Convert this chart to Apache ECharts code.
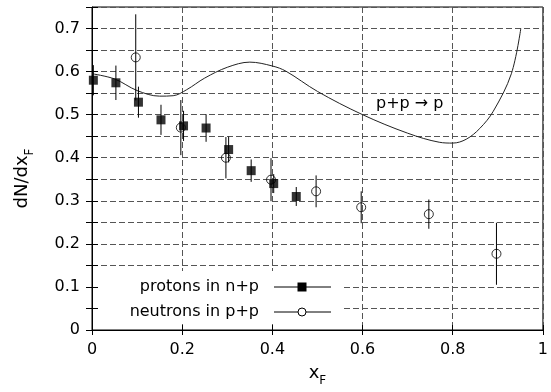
<!DOCTYPE html>
<html>
<head>
<meta charset="utf-8">
<script src="https://cdn.jsdelivr.net/npm/echarts@6/dist/echarts.min.js"></script>
<style>html,body{margin:0;padding:0;background:#fff}#c{width:551px;height:392px}</style>
</head>
<body>
<div id="c"></div>
<script>
// protons in n+p (filled squares)
const protonX = [0.003, 0.053, 0.103, 0.153, 0.203, 0.253, 0.303, 0.353, 0.403, 0.453];
const protonY = [0.580, 0.574, 0.529, 0.488, 0.474, 0.469, 0.419, 0.370, 0.340, 0.310];
const protonErr = [0.035, 0.040, 0.036, 0.035, 0.035, 0.032, 0.030, 0.026, 0.022, 0.022];
// neutrons in p+p (open circles)
const neutronX = [0.097, 0.197, 0.297, 0.397, 0.497, 0.597, 0.747, 0.897];
const neutronY = [0.633, 0.470, 0.400, 0.349, 0.322, 0.285, 0.269, 0.177];
const neutronErr = [0.100, 0.064, 0.048, 0.050, 0.037, 0.037, 0.034, 0.072];
// p+p -> p curve
const curveX = [0, 0.05, 0.10, 0.15, 0.18, 0.21, 0.25, 0.30, 0.35, 0.40, 0.43, 0.50, 0.60, 0.70, 0.77, 0.80, 0.83, 0.86, 0.89, 0.93, 0.951];
const curveY = [0.595, 0.583, 0.556, 0.543, 0.544, 0.558, 0.585, 0.610, 0.622, 0.613, 0.601, 0.554, 0.500, 0.457, 0.436, 0.434, 0.443, 0.468, 0.508, 0.595, 0.700];
const seriesNames = ['protons in n+p', 'neutrons in p+p'];
const curveLabel = 'p+p \u2192 p';

const FONT = '"DejaVu Sans", sans-serif';
const chart = echarts.init(document.getElementById('c'), null, {renderer: 'canvas'});

function errRender(params, api) {
  const x = api.value(0);
  const p1 = api.coord([x, api.value(1)]);
  const p2 = api.coord([x, api.value(2)]);
  return {type: 'line', shape: {x1: p1[0], y1: p1[1], x2: p2[0], y2: p2[1]},
          style: {stroke: '#000', lineWidth: 1}};
}
const grid = {left: 92, right: 2, top: 7, bottom: 62};

chart.setOption({
  animation: false,
  backgroundColor: '#fff',
  grid: Object.assign({show: true, borderColor: '#000', borderWidth: 1, backgroundColor: 'transparent'}, grid),
  xAxis: [{
    type: 'value', min: 0, max: 1, interval: 0.2,
    name: '{a|x}{b|F}', nameLocation: 'middle', nameGap: 34,
    nameTextStyle: {rich: {
      a: {fontFamily: FONT, fontSize: 18, color: '#000', verticalAlign: 'bottom', padding: [0, 0, 5, 0]},
      b: {fontFamily: FONT, fontSize: 12, color: '#000', verticalAlign: 'bottom'}
    }},
    axisLine: {show: true, lineStyle: {color: '#000', width: 1}},
    axisTick: {show: true, inside: true, length: 5, lineStyle: {color: '#000'}},
    axisLabel: {fontFamily: FONT, fontSize: 16, color: '#000', margin: 12},
    splitLine: {show: true, lineStyle: {color: '#555', type: [6, 3], width: 1}}
  }, {
    type: 'value', min: 0, max: 1, interval: 0.2, position: 'top',
    axisLine: {show: false}, axisTick: {show: true, inside: true, length: 5, lineStyle: {color: '#000'}},
    axisLabel: {show: false}, splitLine: {show: false}
  }],
  yAxis: [{
    type: 'value', min: 0, max: 0.75, interval: 0.05,
    name: '{a|dN/dx}{b|F}', nameLocation: 'middle', nameGap: 56,
    nameTextStyle: {padding: [0, 20, 0, 0], rich: {
      a: {fontFamily: FONT, fontSize: 18, color: '#000', verticalAlign: 'bottom', padding: [0, 0, 5, 0]},
      b: {fontFamily: FONT, fontSize: 12, color: '#000', verticalAlign: 'bottom'}
    }},
    axisLine: {show: true, lineStyle: {color: '#000', width: 1}},
    axisTick: {show: true, inside: true, length: 6, lineStyle: {color: '#000'}},
    axisLabel: {fontFamily: FONT, fontSize: 16, color: '#000', margin: 12,
      formatter: function (v) { return Math.round(v * 20) % 2 === 0 ? String(Math.round(v * 10) / 10) : ''; }},
    splitLine: {show: true, lineStyle: {color: '#555', type: [6, 3], width: 1}}
  }, {
    type: 'value', min: 0, max: 0.75, interval: 0.05, position: 'right',
    axisLine: {show: false}, axisTick: {show: true, inside: true, length: 6, lineStyle: {color: '#000'}},
    axisLabel: {show: false}, splitLine: {show: false}
  }],
  series: [
    {type: 'line', name: curveLabel, smooth: 0.35, showSymbol: false, symbol: 'none',
     data: curveX.map((x, i) => [x, curveY[i]]),
     lineStyle: {color: '#222', width: 1}, z: 2},
    {type: 'custom', name: seriesNames[0] + ' err', renderItem: errRender,
     data: protonX.map((x, i) => [x, protonY[i] - protonErr[i], protonY[i] + protonErr[i]]), z: 3},
    {type: 'custom', name: seriesNames[1] + ' err', renderItem: errRender,
     data: neutronX.map((x, i) => [x, neutronY[i] - neutronErr[i], neutronY[i] + neutronErr[i]]), z: 3},
    {type: 'scatter', name: seriesNames[0], symbol: 'rect', symbolSize: 9,
     data: protonX.map((x, i) => [x, protonY[i]]),
     itemStyle: {color: '#000'}, z: 4},
    {type: 'scatter', name: seriesNames[1], symbol: 'circle', symbolSize: 9,
     data: neutronX.map((x, i) => [x, neutronY[i]]),
     itemStyle: {color: 'rgba(0,0,0,0)', borderColor: '#000', borderWidth: 1}, z: 4}
  ],
  graphic: {
    elements: [
      {type: 'rect', z: 50, shape: {x: 99, y: 271, width: 243, height: 53}, style: {fill: '#fff'}},
      {type: 'text', z: 60, style: {text: curveLabel, x: 376, y: 104, verticalAlign: 'middle', font: '16px ' + FONT, fill: '#000'}},
      {type: 'text', z: 60, style: {text: seriesNames[0], x: 259, y: 287, align: 'right', verticalAlign: 'middle', font: '16px ' + FONT, fill: '#000'}},
      {type: 'text', z: 60, style: {text: seriesNames[1], x: 259, y: 312, align: 'right', verticalAlign: 'middle', font: '16px ' + FONT, fill: '#000'}},
      {type: 'line', z: 60, shape: {x1: 274, y1: 287, x2: 331, y2: 287}, style: {stroke: '#000', lineWidth: 1}},
      {type: 'line', z: 60, shape: {x1: 274, y1: 312, x2: 331, y2: 312}, style: {stroke: '#000', lineWidth: 1}},
      {type: 'rect', z: 61, shape: {x: 297.5, y: 282.5, width: 9, height: 9}, style: {fill: '#000'}},
      {type: 'circle', z: 61, shape: {cx: 302, cy: 312, r: 4}, style: {fill: '#fff', stroke: '#000', lineWidth: 1}}
    ]
  }
});
</script>
</body>
</html>
